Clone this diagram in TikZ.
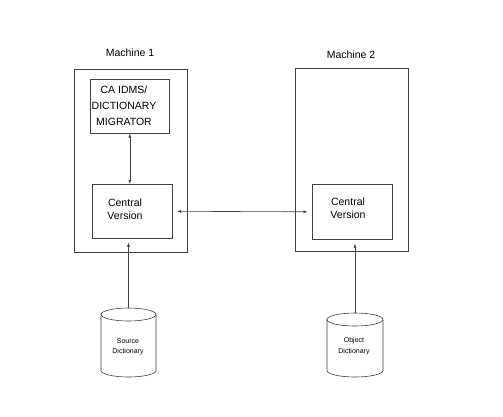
\documentclass[tikz,border=0pt]{standalone}
\usepackage{fontspec}
\setmainfont{Liberation Sans}
\usetikzlibrary{arrows.meta}
\begin{document}
\begin{tikzpicture}[x=1pt,y=-1pt,
  ln/.style={draw=black!75,line width=0.6pt},
  box/.style={ln,rectangle,inner sep=0pt,anchor=north west},
  txt/.style={align=center,inner sep=0pt,font=\fontsize{10.5}{13}\selectfont},
  small/.style={align=center,inner sep=0pt,font=\fontsize{7}{10.5}\selectfont},
  arr/.style={ln,-{Latex[length=4pt,width=3pt]}},
  biarr/.style={ln,{Latex[length=4pt,width=3pt]}-{Latex[length=4pt,width=3pt]}}]
\useasboundingbox (0,0) rectangle (503,416);
% machines
\node[box,minimum width=113pt,minimum height=183pt] (m1) at (74,69) {};
\node[box,minimum width=113pt,minimum height=183pt] (m2) at (295,68) {};
\node[txt] (m1l) at (130,53) {Machine 1};
\node[txt] (m2l) at (351,55) {Machine 2};
% inner boxes
\node[box,minimum width=79pt,minimum height=54pt] (mig) at (90,79) {};
\node[txt,font=\fontsize{10.5}{16}\selectfont] (migt) at (124,106) {CA IDMS/\\DICTIONARY\\MIGRATOR};
\node[box,minimum width=80pt,minimum height=54pt] (cv1) at (92,184) {};
\node[txt] (cv1t) at (125,209.5) {Central\\Version};
\node[box,minimum width=80pt,minimum height=55pt] (cv2) at (312,184) {};
\node[txt] (cv2t) at (348,208.5) {Central\\Version};
% cylinders
\draw[ln] (128.5,314.5) ellipse (27.5 and 6.5);
\draw[ln] (101,314.5) -- (101,370.5) arc (180:0:27.5 and 6.5) -- (156,314.5);
\coordinate (c1top) at (128.5,308);
\node[small] (c1t) at (128,347) {Source\\Dictionary};
\draw[ln] (355,319.5) ellipse (28 and 6.5);
\draw[ln] (327,319.5) -- (327,370.5) arc (180:0:28 and 6.5) -- (383,319.5);
\coordinate (c2top) at (355,313);
\node[small] (c2t) at (354,346) {Object\\Dictionary};
% connectors
\draw[biarr] (mig.south) -- (mig.south |- cv1.north);
\draw[biarr,shorten <=4.5pt,shorten >=4.5pt] (cv1.east) -- (cv2.west);
\draw[arr,shorten >=4pt] (c1top) -- (c1top |- cv1.south);
\draw[arr,shorten >=4pt] (c2top) -- (c2top |- cv2.south);
\end{tikzpicture}
\end{document}
